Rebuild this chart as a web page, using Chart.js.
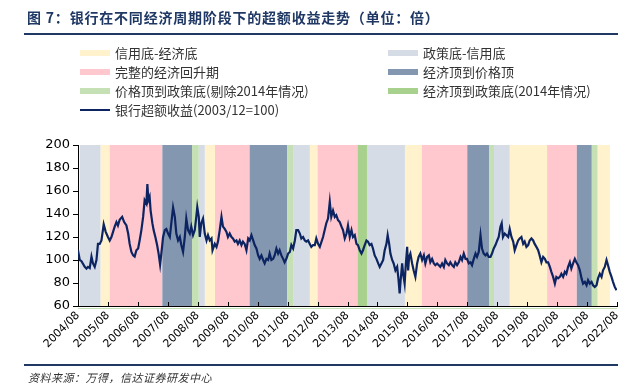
<!DOCTYPE html>
<html>
<head>
<meta charset="utf-8">
<script src="https://cdn.jsdelivr.net/npm/chart.js@4/dist/chart.umd.min.js"></script>
<style>
html,body{margin:0;padding:0;background:#fff;}
#wrap{position:relative;width:637px;height:388px;overflow:hidden;font-family:"Noto Sans CJK SC","Noto Sans",sans-serif;}
#c{position:absolute;left:0;top:0;}
.title{position:absolute;left:27px;top:8px;font-size:14px;font-weight:bold;color:#1f3864;white-space:nowrap;line-height:18px;letter-spacing:0.8px;}
.rule{position:absolute;left:24px;width:594px;height:2px;background:#1f3864;}
.lg{position:absolute;font-size:13px;color:#333;white-space:nowrap;line-height:16px;}
.sw{position:absolute;width:30px;}
.src{position:absolute;left:28px;top:370px;font-size:11px;font-style:italic;color:#333;white-space:nowrap;line-height:14px;letter-spacing:0.5px;}
</style>
</head>
<body>
<div id="wrap">
  <canvas id="c" width="637" height="388"></canvas>
  <div class="title">图 7：银行在不同经济周期阶段下的超额收益走势（单位：倍）</div>
  <div class="rule" style="top:33px"></div>
  <div id="legend"></div>
  <div class="rule" style="top:364px;height:2px"></div>
  <div class="src">资料来源：万得，信达证券研发中心</div>
</div>
<script>
// ---- tick labels ----
const yearLabels = ['2004/08','2005/08','2006/08','2007/08','2008/08','2009/08','2010/08','2011/08','2012/08',
  '2013/08','2014/08','2015/08','2016/08','2017/08','2018/08','2019/08','2020/08','2021/08','2022/08'];

// ---- series: months since 2004/08, bank excess return (2003/12=100) ----
const months = [0,0.7,1.4,2.7,3.4,4.0,4.7,5.4,6.0,6.7,7.4,8.0,8.7,9.4,10.3,11.1,12.0,12.7,13.4,14.7,15.4,16.0,16.7,17.7,18.5,19.4,
20.1,20.7,21.4,22.1,22.7,23.4,24.1,24.7,25.4,26.1,26.7,27.4,27.8,28.2,28.7,29.1,29.8,30.3,31.0,31.7,32.3,32.9,33.4,34.1,34.8,35.4,
36.1,36.8,37.4,38.1,38.8,39.4,40.1,40.8,41.4,42.1,42.8,43.4,44.1,44.8,45.4,46.1,46.8,47.4,47.8,48.4,48.8,49.4,50.1,50.8,51.5,52.1,
52.8,53.5,53.9,54.8,55.5,56.1,56.8,57.5,58.1,58.8,59.5,60.1,60.8,61.5,62.1,62.8,63.5,64.1,64.8,65.5,66.1,66.8,67.5,68.2,68.8,69.5,
70.2,70.8,71.5,72.2,72.8,73.5,74.2,74.8,75.5,76.2,76.8,77.5,78.2,78.8,79.5,80.2,80.8,81.5,82.2,82.8,83.5,84.2,84.9,85.5,86.2,86.9,
87.5,88.2,88.9,89.5,90.2,90.9,91.5,92.2,92.9,93.5,94.2,94.9,95.5,96.2,96.9,98.2,99.5,100.2,100.9,101.5,102.2,102.9,103.5,104.2,
104.9,105.6,106.2,106.9,107.6,108.2,108.9,109.6,110.2,110.9,111.6,112.2,112.9,113.6,114.2,114.9,115.6,116.2,116.9,117.6,118.2,
118.9,119.6,120.3,120.9,121.6,122.3,122.9,123.6,124.1,124.7,125.2,125.9,126.5,127.2,127.9,128.4,128.9,129.3,129.9,130.3,130.9,
131.3,131.9,132.3,132.7,133.2,133.9,134.5,135.2,135.9,136.5,137.2,137.9,138.6,139.2,139.9,140.6,141.2,141.9,142.6,143.2,143.9,
144.6,145.2,145.9,146.6,147.2,147.9,148.6,149.2,149.9,150.6,151.2,151.9,152.6,153.3,153.9,154.6,155.3,155.9,156.6,157.3,157.9,
158.6,159.3,159.9,160.6,161.3,161.9,162.6,163.3,163.9,164.6,165.3,165.9,166.6,167.3,168.0,168.6,169.3,169.8,170.3,171.0,171.7,
172.4,173.0,173.7,174.4,175.0,175.7,176.4,177.0,177.7,178.4,179.0,179.7,180.4,181.0,181.7,182.4,183.0,183.7,184.4,185.0,185.7,
186.4,187.1,187.7,188.4,189.1,189.7,190.4,191.1,191.7,192.4,193.1,193.7,194.4,195.1,195.7,196.4,197.1,197.7,198.4,199.1,199.7,
200.4,201.1,201.8,202.4,203.1,203.8,204.4,205.1,205.8,206.4,207.1,207.8,208.4,209.1,209.8,210.4,211.1,211.8,212.4,213.1,213.8,
214.4,215.1,215.8];
const excessReturn = [108.5,100,99,94,92.5,94,93,103,97,94,100,114,114,117,131,124.5,120,117,120,129,133,130,135,137.5,133,130,
123,114,107,104,103,108.5,110,117,126,137.5,152,149,166,152,155,143,132,126,120,113,105.6,96,105.6,120,126,127,
123,120,132,145.7,137.5,123,117,120,113,107,120,136,126,123,129,121.6,126,137.5,146,137.5,120,132,136,123,117,121.6,
117,118.7,108.5,114,111.4,116,126,137.5,129,127,124.5,120,123,120,118.7,116,117,114,117,113,116,114,108.5,118.7,117,121.6,
117,113,110,104,101,104,100,97,101,100,105.6,100,101,104,110,105.6,108.5,104,101,98,101,105.6,107,113,110,117,
126,126,123,118.7,120,117,116,117,114,111.4,113,113,118.7,114,111.4,120,132,136,150.6,137.5,143,137.5,139,134.7,
133,129,126,118.7,123,130,120,126,120,121.6,114,113,108.5,105.6,108.5,113,117,116,113,114,110,
104,101,97,94,97,100,108.5,114,121.6,114,105.6,100,97,91,94,84,71,82.4,97,88,79.5,
94,111.4,91,102.7,105.6,97,91,85.3,97,102.7,105.6,100,104,97,102.7,104,98,101,97,95.5,97,
95.5,94,97,94,100,97,95.5,98,95.5,94,98,95.5,98,102.7,100,105.6,101,101,97,98,95.5,
101,105.6,102.7,107,121.6,110,105.6,104,105.6,102.7,102.7,105.6,110,113,117,120,129,132,120,123,121.6,
120,127,120,116,108.5,113,117,118.7,120,114,116,111.4,113,117,118.7,117,114,111.4,108.5,104,98,
102.7,101,98,98,94,89.7,85.3,79.5,85.3,84,85.3,88,85.3,89.7,88,94,98,92.6,97,101,98,
95.5,91,84,79.5,81,78,82.4,79.5,81,78,76.6,78,84,88,85.3,91,94,100,95.5,89.7,85.3,
81,76.6,73.7];

// ---- cycle phase bands (start, end in months since 2004/08) ----
const policyToCredit   = [[0.7,9],[48.4,50.8],[86.2,92.9],[115.8,131],[166.7,173]];
const creditToEconomy  = [[9,12.7],[50.8,54.9],[92.9,96],[131,137.8],[173,188],[208.2,213.2]];
const fullRecovery     = [[12.7,33.8],[54.9,68.8],[96,112],[137.8,156],[188,199.9]];
const econTopToPrice   = [[33.8,45.7],[68.8,83.9],[156,164.7],[199.9,205.9]];
const priceTopToPolicy = [[45.7,48.4],[83.9,86.2],[164.7,166.7],[205.9,208.2]];
const econTopToPolicy2014 = [[112,115.8]];

const bandSets = [
  {name:'信用底-经济底', color:'#fff2cc', spans:creditToEconomy},
  {name:'政策底-信用底', color:'#d6dce5', spans:policyToCredit},
  {name:'完整的经济回升期', color:'#ffc7ce', spans:fullRecovery},
  {name:'经济顶到价格顶', color:'#8497b0', spans:econTopToPrice},
  {name:'价格顶到政策底(剔除2014年情况)', color:'#c5e0b4', spans:priceTopToPolicy},
  {name:'经济顶到政策底(2014年情况)', color:'#a9d18e', spans:econTopToPolicy2014}
];
const lineName = '银行超额收益(2003/12=100)';
const lineColor = '#0c2461';

// ---- HTML legend ----
const lg = document.getElementById('legend');
const rowsY = [53,72,91,110];
const colX = [80,388];
const items = bandSets.map(b=>({name:b.name,color:b.color,h:6})).concat([{name:lineName,color:lineColor,h:2.5}]);
items.forEach((it,i)=>{
  const r = Math.floor(i/2), c = i%2;
  const sw = document.createElement('div');
  sw.className='sw';
  sw.style.left = colX[c]+'px';
  sw.style.top = (rowsY[r]-it.h/2)+'px';
  sw.style.height = it.h+'px';
  sw.style.background = it.color;
  lg.appendChild(sw);
  const t = document.createElement('div');
  t.className='lg';
  t.style.left = (colX[c]+35)+'px';
  t.style.top = (rowsY[r]-8)+'px';
  t.textContent = it.name;
  lg.appendChild(t);
});

// ---- plugins ----
const bandPlugin = {
  id:'bands',
  beforeDatasetsDraw(chart){
    const {ctx, chartArea:a, scales:{x}} = chart;
    ctx.save();
    bandSets.forEach(b=>{
      ctx.fillStyle = b.color;
      b.spans.forEach(([s,e])=>{
        const x0 = x.getPixelForValue(s), x1 = x.getPixelForValue(e);
        ctx.fillRect(x0, a.top, x1-x0, a.bottom-a.top);
      });
    });
    ctx.restore();
  }
};
const innerTicks = {
  id:'innerTicks',
  afterDraw(chart){
    const {ctx, chartArea:a, scales:{x}} = chart;
    ctx.save();
    ctx.strokeStyle='#000'; ctx.lineWidth=1;
    x.ticks.forEach(t=>{
      const px = Math.round(x.getPixelForValue(t.value))+0.5;
      ctx.beginPath(); ctx.moveTo(px, a.bottom); ctx.lineTo(px, a.bottom-4); ctx.stroke();
    });
    ctx.strokeStyle='#c5e0b4';
    ctx.beginPath(); ctx.moveTo(a.left, a.bottom+2.5); ctx.lineTo(a.right, a.bottom+2.5); ctx.stroke();
    ctx.restore();
  }
};

new Chart(document.getElementById('c').getContext('2d'), {
  type:'line',
  data:{datasets:[{
    label: lineName,
    data: months.map((m,i)=>({x:m, y:excessReturn[i]})),
    borderColor: lineColor, borderWidth: 2.2, pointRadius: 0, tension: 0, fill:false
  }]},
  options:{
    responsive:false, animation:false, devicePixelRatio:1,
    layout:{padding:{top:145,right:20,bottom:0,left:0}},
    plugins:{legend:{display:false}, tooltip:{enabled:false}},
    scales:{
      x:{
        type:'linear', min:0, max:216,
        ticks:{stepSize:12, autoSkip:false, minRotation:45, maxRotation:45, padding:3, color:'#000',
          font:{family:'DejaVu Sans', size:11},
          callback:(v,i)=>yearLabels[i]},
        grid:{display:true, drawOnChartArea:false, drawTicks:false},
        border:{color:'#000', width:1},
        afterFit:(s)=>{s.height=82;}
      },
      y:{
        min:60, max:200,
        ticks:{stepSize:20, padding:3, color:'#000', font:{family:'DejaVu Sans', size:13}},
        grid:{drawOnChartArea:false, drawTicks:true, tickLength:5, color:'#000'},
        border:{color:'#000', width:1},
        afterFit:(s)=>{s.width=78;}
      }
    }
  },
  plugins:[bandPlugin, innerTicks]
});
</script>
</body>
</html>
